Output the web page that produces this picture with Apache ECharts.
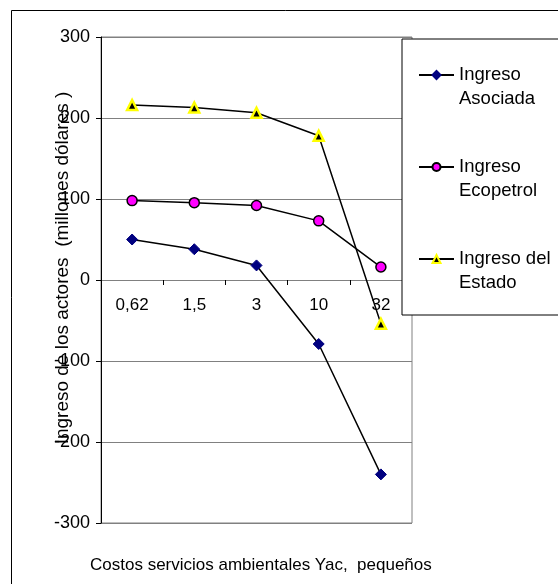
<!DOCTYPE html>
<html>
<head>
<meta charset="utf-8">
<script src="https://cdn.jsdelivr.net/npm/echarts@6/dist/echarts.min.js"></script>
<style>html,body{margin:0;padding:0;background:#fff}#c{width:558px;height:584px}</style>
</head>
<body>
<div id="c"></div>
<script>
var categories = ['0,62', '1,5', '3', '10', '32'];
var asociada = [50, 38, 18, -79, -240];
var ecopetrol = [98, 95.5, 92, 73, 16];
var estado = [216, 213, 206.5, 178, -54];
var seriesNames = ['Ingreso\nAsociada', 'Ingreso\nEcopetrol', 'Ingreso del\nEstado'];
var yTicks = {min: -300, max: 300, interval: 100};

var FONT = 'Liberation Sans, Arial, sans-serif';
var chart = echarts.init(document.getElementById('c'), null, {renderer: 'canvas'});
chart.setOption({
  animation: false,
  backgroundColor: '#ffffff',
  textStyle: {fontFamily: FONT},
  graphic: [{
    type: 'rect', z: -10, silent: true,
    shape: {x: 11.5, y: 10.5, width: 620, height: 620},
    style: {fill: 'none', stroke: '#000', lineWidth: 1}
  }],
  title: {
    text: 'Costos servicios ambientales Yac,  pequeños',
    left: 85, top: 552,
    textStyle: {fontFamily: FONT, fontSize: 17, fontWeight: 'normal', color: '#000'}
  },
  grid: {left: 101, top: 37, right: 146, bottom: 61, show: true, borderColor: '#808080', borderWidth: 1, containLabel: false},
  xAxis: {
    type: 'category',
    data: categories,
    boundaryGap: true,
    offset: -243,
    axisLine: {onZero: false, lineStyle: {color: '#808080', width: 1}},
    axisTick: {show: true, inside: false, length: 5, lineStyle: {color: '#000'}},
    axisLabel: {color: '#000', fontSize: 17, fontFamily: FONT, margin: 17},
    splitLine: {show: false}
  },
  yAxis: {
    type: 'value',
    min: yTicks.min, max: yTicks.max, interval: yTicks.interval,
    name: 'Ingreso de los actores  (millones dólares )',
    nameLocation: 'middle',
    nameGap: 29,
    nameRotate: 90,
    nameMoveOverlap: false,
    nameTextStyle: {color: '#000', fontSize: 19, fontFamily: FONT, padding: [0, 0, 0, 24]},
    axisLine: {show: true, lineStyle: {color: '#000', width: 1}},
    axisTick: {show: true, length: 5, lineStyle: {color: '#000'}},
    axisLabel: {color: '#000', fontSize: 18, fontFamily: FONT, margin: 11},
    splitLine: {show: true, lineStyle: {color: '#808080', width: 1}}
  },
  legend: {
    orient: 'vertical',
    left: 402, top: 39,
    padding: [0, 30, 20, 16],
    itemGap: 20,
    itemWidth: 35, itemHeight: 10,
    backgroundColor: '#fff',
    borderColor: '#000', borderWidth: 1,
    formatter: function (n) { return '\n' + n; },
    textStyle: {color: '#000', fontSize: 18.5, fontFamily: FONT, lineHeight: 24},
    data: seriesNames
  },
  series: [
    {name: seriesNames[0], type: 'line', data: asociada, symbol: 'diamond', symbolSize: 11,
     lineStyle: {color: '#000', width: 1.5}, itemStyle: {color: '#000080', borderColor: '#000080', borderWidth: 1}},
    {name: seriesNames[1], type: 'line', data: ecopetrol, symbol: 'circle', symbolSize: 10,
     lineStyle: {color: '#000', width: 1.5}, itemStyle: {color: '#ff00ff', borderColor: '#000', borderWidth: 1.5}},
    {name: seriesNames[2], type: 'line', data: estado, symbol: 'triangle', symbolSize: 10,
     lineStyle: {color: '#000', width: 1.5}, itemStyle: {color: '#000', borderColor: '#ffff00', borderWidth: 2.5}}
  ]
});
</script>
</body>
</html>
